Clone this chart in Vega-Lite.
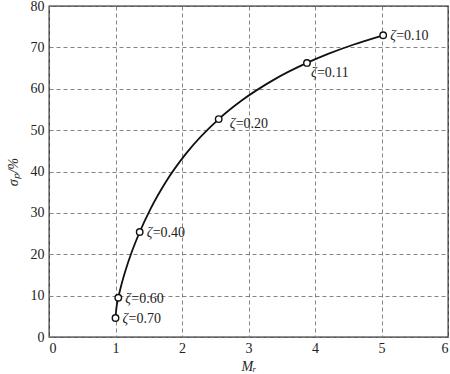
{
  "$schema": "https://vega.github.io/schema/vega-lite/v6.json",
  "width": 399,
  "height": 331,
  "autosize": "none",
  "padding": {"left": 49, "top": 6, "right": 2, "bottom": 37},
  "config": {
    "font": "Times New Roman",
    "view": {"stroke": "#222", "strokeWidth": 1.3},
    "axis": {
      "labelFont": "Times New Roman",
      "labelFontSize": 14,
      "labelColor": "#222",
      "labelOverlap": false,
      "titleFont": "Times New Roman",
      "titleFontSize": 14,
      "titleFontWeight": "normal",
      "titleFontStyle": "italic",
      "titleColor": "#222",
      "ticks": false,
      "domain": false,
      "gridColor": "#777",
      "gridDash": [4, 3],
      "gridWidth": 0.9,
      "gridOpacity": 1
    }
  },
  "datasets": {
    "curve": [
      {"zeta": 0.10, "Mr": 5.025, "sigma": 72.92},
      {"zeta": 0.11, "Mr": 4.573, "sigma": 70.63},
      {"zeta": 0.12, "Mr": 4.197, "sigma": 68.41},
      {"zeta": 0.13, "Mr": 3.879, "sigma": 66.24},
      {"zeta": 0.15, "Mr": 3.371, "sigma": 62.09},
      {"zeta": 0.175, "Mr": 2.902, "sigma": 57.21},
      {"zeta": 0.20, "Mr": 2.552, "sigma": 52.66},
      {"zeta": 0.25, "Mr": 2.066, "sigma": 44.43},
      {"zeta": 0.30, "Mr": 1.747, "sigma": 37.23},
      {"zeta": 0.35, "Mr": 1.525, "sigma": 30.92},
      {"zeta": 0.40, "Mr": 1.364, "sigma": 25.38},
      {"zeta": 0.45, "Mr": 1.244, "sigma": 20.53},
      {"zeta": 0.50, "Mr": 1.155, "sigma": 16.30},
      {"zeta": 0.55, "Mr": 1.089, "sigma": 12.63},
      {"zeta": 0.60, "Mr": 1.042, "sigma": 9.48},
      {"zeta": 0.65, "Mr": 1.012, "sigma": 6.81},
      {"zeta": 0.70, "Mr": 1.0002, "sigma": 4.60}
    ],
    "pts": [
      {"label": "=0.10", "Mr": 5.025, "sigma": 72.92},
      {"label": "=0.11", "Mr": 3.879, "sigma": 66.24},
      {"label": "=0.20", "Mr": 2.552, "sigma": 52.66},
      {"label": "=0.40", "Mr": 1.364, "sigma": 25.38},
      {"label": "=0.60", "Mr": 1.042, "sigma": 9.48},
      {"label": "=0.70", "Mr": 1.0002, "sigma": 4.60}
    ]
  },
  "encoding": {
    "x": {"field": "Mr", "type": "quantitative", "scale": {"domain": [0, 6], "nice": false, "zero": false},
      "axis": {"title": "Mᵣ", "values": [0,1,2,3,4,5,6], "labelPadding": 4, "titlePadding": 4}},
    "y": {"field": "sigma", "type": "quantitative", "scale": {"domain": [0, 80], "nice": false},
      "axis": {"title": "σₚ/%", "values": [0,10,20,30,40,50,60,70,80], "labelPadding": 5, "titlePadding": 10}}
  },
  "layer": [
    {"data": {"name": "curve"}, "mark": {"type": "line", "interpolate": "monotone", "color": "#111", "strokeWidth": 1.8}},
    {"data": {"name": "pts"}, "mark": {"type": "point", "shape": "circle", "filled": true, "fill": "white", "stroke": "#111", "strokeWidth": 1.4, "size": 42, "opacity": 1}},
    {"data": {"name": "pts"}, "transform": [{"filter": "datum.label != '=0.11' && datum.label != '=0.20'"}],
      "mark": {"type": "text", "align": "left", "baseline": "middle", "dx": 7, "dy": 1, "fontSize": 14, "fontStyle": "italic", "color": "#222"},
      "encoding": {"text": {"value": "ζ"}}},
    {"data": {"name": "pts"}, "transform": [{"filter": "datum.label != '=0.11' && datum.label != '=0.20'"}],
      "mark": {"type": "text", "align": "left", "baseline": "middle", "dx": 13, "dy": 1, "fontSize": 14, "color": "#222"},
      "encoding": {"text": {"field": "label", "type": "nominal"}}},
    {"data": {"name": "pts"}, "transform": [{"filter": "datum.label == '=0.20'"}],
      "mark": {"type": "text", "align": "left", "baseline": "middle", "dx": 11, "dy": 5, "fontSize": 14, "fontStyle": "italic", "color": "#222"},
      "encoding": {"text": {"value": "ζ"}}},
    {"data": {"name": "pts"}, "transform": [{"filter": "datum.label == '=0.20'"}],
      "mark": {"type": "text", "align": "left", "baseline": "middle", "dx": 17, "dy": 5, "fontSize": 14, "color": "#222"},
      "encoding": {"text": {"field": "label", "type": "nominal"}}},
    {"data": {"name": "pts"}, "transform": [{"filter": "datum.label == '=0.11'"}],
      "mark": {"type": "text", "align": "left", "baseline": "middle", "dx": 4, "dy": 10, "fontSize": 14, "fontStyle": "italic", "color": "#222"},
      "encoding": {"text": {"value": "ζ"}}},
    {"data": {"name": "pts"}, "transform": [{"filter": "datum.label == '=0.11'"}],
      "mark": {"type": "text", "align": "left", "baseline": "middle", "dx": 10, "dy": 10, "fontSize": 14, "color": "#222"},
      "encoding": {"text": {"field": "label", "type": "nominal"}}}
  ]
}
